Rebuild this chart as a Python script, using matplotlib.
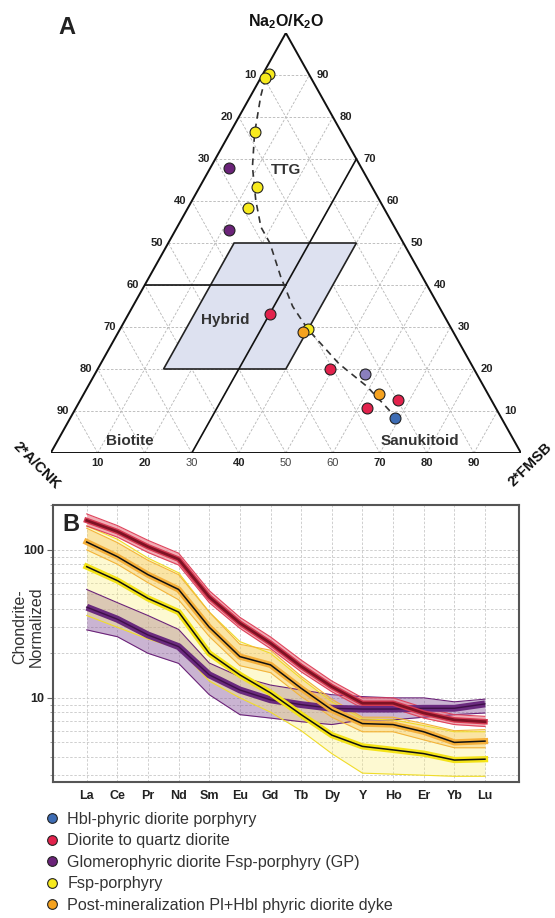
import matplotlib
matplotlib.use('Agg')
import matplotlib.pyplot as plt
from matplotlib.lines import Line2D
from matplotlib.patches import Polygon

plt.rcParams['font.family'] = ['Liberation Sans', 'DejaVu Sans']
plt.rcParams['mathtext.fontset'] = 'custom'
plt.rcParams['mathtext.rm'] = 'Liberation Sans'
plt.rcParams['mathtext.bf'] = 'Liberation Sans:bold'

# legend groups
groups = ['Hbl-phyric diorite porphyry', 'Diorite to quartz diorite',
          'Glomerophyric diorite Fsp-porphyry (GP)', 'Fsp-porphyry',
          'Post-mineralization Pl+Hbl phyric diorite dyke']
colors = ['#3d6cb4', '#e2224c', '#6b2379', '#f7ea1d', '#f5a21f']

# ternary samples (%): top = Na2O/K2O, right = 2*FMSB
yel_nak = [90.3, 89.2, 76.5, 63.4, 58.3, 29.5]
yel_fmsb = [1.3, 0.9, 5.2, 12.1, 12.9, 39.9]
pur_nak = [67.9, 53.0]
pur_fmsb = [4.0, 11.5]
red_nak = [33.1, 20.1, 12.7, 10.6]
red_fmsb = [30.0, 49.3, 67.5, 62.0]
ora_nak = [28.9, 14.0]
ora_fmsb = [39.1, 62.9]
lav_nak = [18.9]
lav_fmsb = [57.4]
blu_nak = [8.4]
blu_fmsb = [69.1]

# trend curve
trend_nak = [89.3, 84.9, 76.1, 68.2, 60.2, 53.8, 50.0, 42.0, 34.9, 29.5, 21.3, 15.8, 8.6]
trend_fmsb = [1.0, 2.2, 5.3, 8.8, 13.5, 17.8, 21.6, 27.9, 34.0, 39.9, 50.6, 59.4, 69.0]

# REE chondrite-normalised
elements = ['La', 'Ce', 'Pr', 'Nd', 'Sm', 'Eu', 'Gd', 'Tb', 'Dy', 'Y', 'Ho', 'Er', 'Yb', 'Lu']
red_mid = [158, 133, 105, 86.5, 48, 32, 23.4, 16.3, 11.9, 9.2, 9.2, 7.9, 7.1, 6.9]
red_hi = [175, 146, 116, 95, 53, 35, 25.8, 18, 13, 10, 10, 8.6, 7.7, 7.5]
red_lo = [145, 122, 96, 79, 44, 29.5, 21.5, 15, 11, 8.5, 8.5, 7.3, 6.6, 6.4]
ora_mid = [113, 90, 68, 54, 30, 19, 16.7, 11.6, 8.3, 6.7, 6.6, 5.9, 5.0, 5.1]
ora_hi = [140, 112, 85, 68, 38, 23, 21, 14, 9.8, 7.4, 7.4, 6.7, 6.0, 6.1]
ora_lo = [100, 80, 60, 46, 26, 16.5, 14.8, 10.2, 7.4, 5.9, 5.9, 5.2, 4.6, 4.6]
yel_mid = [77, 62, 47, 38, 20, 14.3, 10.8, 7.7, 5.6, 4.7, 4.45, 4.2, 3.8, 3.85]
yel_hi = [145, 118, 88, 70, 38, 24, 20, 13.5, 9.4, 7.2, 7.1, 6.5, 5.9, 5.9]
yel_lo = [36, 30, 25, 21.5, 13, 10, 8, 6, 4.2, 3.1, 3.05, 3.0, 2.95, 2.95]
pur_mid = [41, 34, 26.6, 22.2, 14.3, 11.3, 9.7, 9.0, 8.5, 8.4, 8.4, 8.5, 8.5, 9.1]
pur_hi = [54, 44, 36, 29, 17.2, 13.9, 12.2, 11.3, 10.5, 10.2, 10, 10, 9.4, 9.8]
pur_lo = [28.8, 25.9, 20, 17.1, 10.5, 7.7, 7.3, 6.9, 6.6, 7.1, 7.1, 7.4, 7.7, 7.9]


def tern(nak, fmsb):
    x = [f / 100 + n / 200 for n, f in zip(nak, fmsb)]
    y = [n / 100 for n in nak]
    return x, y


fig = plt.figure(figsize=(5.55, 9.18), dpi=100)

# ---------------- A: ternary ----------------
ax = fig.add_axes([50.7 / 555, 1 - 453 / 918, 470.3 / 555, 420 / 918])
ax.set_xlim(0, 1)
ax.set_ylim(0, 1)
ax.axis('off')

for k in range(1, 10):
    f = k / 10
    kw = dict(color='#b5b5b5', lw=0.6, ls=(0, (3, 2)), zorder=1)
    ax.plot([f / 2, 1 - f / 2], [f, f], **kw)
    ax.plot([f, f + (1 - f) / 2], [0, 1 - f], **kw)
    ax.plot([1 - f, (1 - f) / 2], [0, 1 - f], **kw)

ax.add_patch(Polygon([(0.39, 0.5), (0.65, 0.5), (0.50, 0.2), (0.24, 0.2)],
                     closed=True, facecolor='#dde1f0', edgecolor='#222', lw=1.2, zorder=2))
ax.plot([0.3, 0.65], [0, 0.7], color='#111', lw=1.2, zorder=3)
ax.plot([0.2, 0.5], [0.4, 0.4], color='#111', lw=1.2, zorder=3)
ax.plot([0, 1, 0.5, 0], [0, 0, 1, 0], color='#111', lw=1.4, zorder=3)

tx, ty = tern(trend_nak, trend_fmsb)
ax.plot(tx, ty, color='#333', lw=1.2, ls=(0, (4, 3)), zorder=3)

for nak, fm, c in [(yel_nak, yel_fmsb, colors[3]), (pur_nak, pur_fmsb, colors[2]),
                   (red_nak, red_fmsb, colors[1]), (ora_nak, ora_fmsb, colors[4]),
                   (lav_nak, lav_fmsb, '#8a7fbd'), (blu_nak, blu_fmsb, colors[0])]:
    px, py = tern(nak, fm)
    ax.scatter(px, py, s=62, color=c, edgecolor='#222', lw=0.8, zorder=5, clip_on=False)

for k in range(1, 10):
    b = k / 10
    ax.text(b / 2 - 0.012, b, str(100 - k * 10), ha='right', va='center',
            fontsize=8, fontweight='bold', color='#222')
    ax.text(1 - b / 2 + 0.015, b, str(k * 10), ha='left', va='center',
            fontsize=8, fontweight='bold', color='#222')
    light = k in (3, 5, 6)
    ax.text(b, -0.025, str(k * 10), ha='center', va='center', fontsize=8,
            fontweight='normal' if light else 'bold', color='#444' if light else '#222')

ax.text(0.5, 1.027, r'$\mathbf{Na_2O/K_2O}$', ha='center', va='center', fontsize=11.5, color='#111')
ax.text(-0.030, -0.030, '2*A/CNK', ha='center', va='center', rotation=-45,
        fontsize=10.5, fontweight='bold', color='#111')
ax.text(1.019, -0.028, '2*FMSB', ha='center', va='center', rotation=45,
        fontsize=10.5, fontweight='bold', color='#111')
for s, x, y in [('TTG', 0.5, 0.674), ('Hybrid', 0.372, 0.317),
                ('Biotite', 0.169, 0.028), ('Sanukitoid', 0.786, 0.028)]:
    ax.text(x, y, s, ha='center', va='center', fontsize=11, fontweight='bold', color='#333')

fig.text(67 / 555, 1 - 27 / 918, 'A', fontsize=17, fontweight='bold', ha='center', va='center', color='#222')

# ---------------- B: REE ----------------
ar = fig.add_axes([52.7 / 555, 1 - 782 / 918, (519 - 52.7) / 555, (782 - 505) / 918])
xs = list(range(len(elements)))
ar.set_yscale('log')
ar.set_xlim(-1.11, 14.11)
ar.set_ylim(2.7, 201)

ar.fill_between(xs, pur_lo, pur_hi, color='#8a5a9c', alpha=0.45, lw=0, zorder=2)
ar.fill_between(xs, yel_lo, yel_hi, color='#fbee7c', alpha=0.35, lw=0, zorder=2)
ar.fill_between(xs, ora_lo, ora_hi, color='#f7bf52', alpha=0.35, lw=0, zorder=2)
ar.fill_between(xs, red_lo, red_hi, color='#ec8a98', alpha=0.7, lw=0, zorder=2)
for lo, hi, c in [(pur_lo, pur_hi, '#6b2379'), (yel_lo, yel_hi, '#f0dc2a'),
                  (ora_lo, ora_hi, '#f3b43a'), (red_lo, red_hi, '#e0445c')]:
    ar.plot(xs, lo, color=c, lw=0.8, zorder=3)
    ar.plot(xs, hi, color=c, lw=0.8, zorder=3)

ar.plot(xs, pur_mid, color='#6a2a7e', lw=5, solid_capstyle='butt', zorder=4)
ar.plot(xs, pur_mid, color='#3e1048', lw=1.0, zorder=4)
ar.plot(xs, yel_mid, color='#f4e316', lw=4.5, zorder=4)
ar.plot(xs, yel_mid, color='#111', lw=1.1, zorder=4)
ar.plot(xs, ora_mid, color='#f5b03a', lw=4.5, zorder=4)
ar.plot(xs, ora_mid, color='#111', lw=1.1, zorder=4)
ar.plot(xs, red_mid, color='#d63a52', lw=4, zorder=4)
ar.plot(xs, red_mid, color='#7e1224', lw=2, zorder=4)

ar.set_xticks(xs)
ar.set_xticklabels(elements, fontsize=9, fontweight='bold', color='#222')
ar.tick_params(axis='x', length=0, pad=6)
ar.set_yticks([10, 100])
ar.set_yticklabels(['10', '100'], fontsize=9, fontweight='bold', color='#222')
ar.yaxis.set_minor_formatter(matplotlib.ticker.NullFormatter())
ar.tick_params(axis='y', which='major', length=4, color='#666', pad=2)
ar.tick_params(axis='y', which='minor', length=2.5, color='#888')
ar.grid(True, axis='x', ls=(0, (3, 2)), color='#c8c8c8', lw=0.6, zorder=0)
ar.grid(True, axis='y', which='both', ls=(0, (3, 2)), color='#c8c8c8', lw=0.6, zorder=0)
ar.set_axisbelow(True)
for sp in ar.spines.values():
    sp.set_color('#555')
    sp.set_linewidth(1.5)

ar.text(0.04, 0.93, 'B', transform=ar.transAxes, fontsize=17, fontweight='bold',
        ha='center', va='center', color='#222')
fig.text(28 / 555, 1 - 627 / 918, 'Chondrite-\nNormalized', rotation=90, ha='center',
         va='center', fontsize=11.5, color='#333', linespacing=1.1)

handles = [Line2D([], [], marker='o', ls='', markersize=7, markerfacecolor=c,
                  markeredgecolor='#222', markeredgewidth=0.8) for c in colors]
fig.legend(handles, groups, loc='upper left', bbox_to_anchor=(44 / 555, 1 - 812 / 918),
           frameon=False, fontsize=11.6, labelcolor='#333', handlelength=1.0,
           handletextpad=0.45, labelspacing=0.40, borderpad=0, borderaxespad=0)

fig.savefig('out.png', dpi=100)
